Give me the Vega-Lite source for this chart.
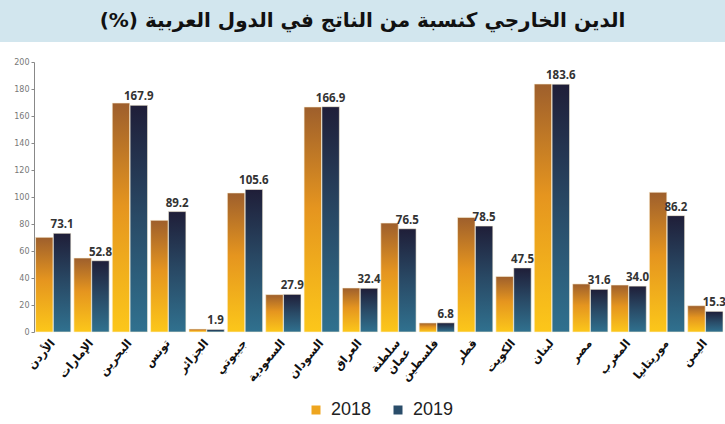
{
  "$schema": "https://vega.github.io/schema/vega-lite/v6.json",
  "background": "white",
  "padding": {"left": 0, "top": 0, "right": 0, "bottom": 0},
  "spacing": 16,
  "config": {"view": {"stroke": null}},
  "datasets": {
    "debt": [
      {"country": "الأردن", "year": "2018", "value": 70.1},
      {"country": "الأردن", "year": "2019", "value": 73.1},
      {"country": "الإمارات", "year": "2018", "value": 54.8},
      {"country": "الإمارات", "year": "2019", "value": 52.8},
      {"country": "البحرين", "year": "2018", "value": 169.6},
      {"country": "البحرين", "year": "2019", "value": 167.9},
      {"country": "تونس", "year": "2018", "value": 82.7},
      {"country": "تونس", "year": "2019", "value": 89.2},
      {"country": "الجزائر", "year": "2018", "value": 2.2},
      {"country": "الجزائر", "year": "2019", "value": 1.9},
      {"country": "جيبوتي", "year": "2018", "value": 103.0},
      {"country": "جيبوتي", "year": "2019", "value": 105.6},
      {"country": "السعودية", "year": "2018", "value": 27.7},
      {"country": "السعودية", "year": "2019", "value": 27.9},
      {"country": "السودان", "year": "2018", "value": 166.7},
      {"country": "السودان", "year": "2019", "value": 166.9},
      {"country": "العراق", "year": "2018", "value": 32.6},
      {"country": "العراق", "year": "2019", "value": 32.4},
      {"country": "سلطنة عمان", "year": "2018", "value": 80.7},
      {"country": "سلطنة عمان", "year": "2019", "value": 76.5},
      {"country": "فلسطين", "year": "2018", "value": 6.7},
      {"country": "فلسطين", "year": "2019", "value": 6.8},
      {"country": "قطر", "year": "2018", "value": 84.9},
      {"country": "قطر", "year": "2019", "value": 78.5},
      {"country": "الكويت", "year": "2018", "value": 41.2},
      {"country": "الكويت", "year": "2019", "value": 47.5},
      {"country": "لبنان", "year": "2018", "value": 183.7},
      {"country": "لبنان", "year": "2019", "value": 183.6},
      {"country": "مصر", "year": "2018", "value": 35.6},
      {"country": "مصر", "year": "2019", "value": 31.6},
      {"country": "المغرب", "year": "2018", "value": 34.8},
      {"country": "المغرب", "year": "2019", "value": 34.0},
      {"country": "موريتانيا", "year": "2018", "value": 103.5},
      {"country": "موريتانيا", "year": "2019", "value": 86.2},
      {"country": "اليمن", "year": "2018", "value": 19.5},
      {"country": "اليمن", "year": "2019", "value": 15.3}
    ],
    "banner": [{"t": "الدين الخارجي كنسبة من الناتج في الدول العربية (%)‏"}]
  },
  "vconcat": [
    {
      "width": 725,
      "height": 42,
      "view": {"fill": "#d2e6ee", "stroke": null},
      "data": {"name": "banner"},
      "mark": {"type": "text", "font": "DejaVu Sans", "fontWeight": "bold", "fontSize": 20, "color": "#111111", "baseline": "middle", "align": "center"},
      "encoding": {"text": {"field": "t", "type": "nominal"}}
    },
    {
      "width": 725,
      "height": 270,
      "data": {"name": "debt"},
      "encoding": {
        "x": {
          "field": "country", "type": "nominal", "sort": null,
          "scale": {"paddingInner": 0.08, "paddingOuter": 0.489, "align": 0.947},
          "axis": {
            "title": null, "domain": false, "ticks": false,
            "labelAngle": -50, "labelAlign": "right", "labelBaseline": "middle",
            "labelFont": "DejaVu Sans", "labelFontWeight": "bold", "labelFontSize": 11.5,
            "labelColor": "#111111", "labelPadding": 9,
            "labelExpr": "split(datum.value, ' ')"
          }
        },
        "xOffset": {"field": "year", "type": "nominal", "scale": {"domain": ["2018", "2019"], "paddingInner": 0.02}},
        "y": {
          "field": "value", "type": "quantitative",
          "scale": {"domain": [0, 200], "nice": false},
          "axis": {
            "title": null, "grid": false, "values": [0, 20, 40, 60, 80, 100, 120, 140, 160, 180, 200],
            "labelFont": "DejaVu Sans", "labelFontSize": 8, "labelColor": "#777777",
            "domainColor": "#888888", "tickColor": "#888888", "tickSize": 3, "labelPadding": 2,
            "offset": -34
          }
        }
      },
      "layer": [
        {
          "transform": [{"filter": "datum.year == '2018'"}],
          "mark": {"type": "bar", "stroke": "#fbf3dc", "strokeWidth": 0.6,
            "fill": {"gradient": "linear", "x1": 0, "y1": 0, "x2": 0, "y2": 1, "stops": [{"offset": 0, "color": "#9e5f2c"}, {"offset": 0.45, "color": "#e5951f"}, {"offset": 1, "color": "#fcc71a"}]}}
        },
        {
          "transform": [{"filter": "datum.year == '2019'"}],
          "mark": {"type": "bar", "stroke": "#fbf3dc", "strokeWidth": 0.6,
            "fill": {"gradient": "linear", "x1": 0, "y1": 0, "x2": 0, "y2": 1, "stops": [{"offset": 0, "color": "#1f1e38"}, {"offset": 0.5, "color": "#294a66"}, {"offset": 1, "color": "#30718f"}]}}
        },
        {
          "mark": {"type": "point", "shape": "square", "filled": true, "opacity": 0},
          "encoding": {
            "color": {
              "field": "year", "type": "nominal", "title": null,
              "scale": {"domain": ["2018", "2019"], "range": ["#eea51f", "#2a4d6a"]},
              "legend": {
                "orient": "none", "direction": "horizontal",
                "legendX": 307, "legendY": 401,
                "symbolType": "square", "symbolSize": 81, "symbolStrokeWidth": 0, "symbolOpacity": 1,
                "labelFont": "Liberation Sans", "labelFontSize": 18, "labelColor": "#222222",
                "labelOffset": 6, "columnPadding": 17
              }
            }
          }
        },
        {
          "transform": [{"filter": "datum.year == '2019'"}],
          "mark": {"type": "text", "dy": -8, "font": "Open Sans", "fontWeight": "bold", "fontSize": 11.5, "color": "#333333"},
          "encoding": {"text": {"field": "value", "type": "quantitative", "format": ".1f"}}
        }
      ]
    }
  ]
}
